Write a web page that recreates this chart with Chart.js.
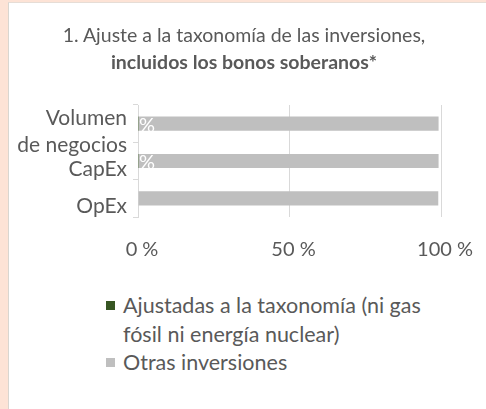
<!DOCTYPE html>
<html>
<head>
<meta charset="utf-8">
<script src="https://cdn.jsdelivr.net/npm/chart.js@4"></script>
<style>
  body { margin: 0; background: #fde3d6; font-family: Lato, sans-serif; overflow: hidden; }
  .panel { position: absolute; left: 8px; top: 2px; width: 477px; height: 406px; background: #fff; border-left: 1px solid #d9d6d0; border-top: 1px solid #e6ddd6; }
  #myChart { position: absolute; left: 1px; top: 0; }
  #title { position: absolute; left: 0; top: 21px; width: 488px; text-align: center; color: #595959; font-size: 19.5px; line-height: 27px; }
  #title b { font-weight: bold; }
  #legend { position: absolute; left: 97px; top: 288px; width: 340px; color: #595959; font-size: 21.5px; line-height: 28.5px; }
  .item { position: relative; padding-left: 17px; }
  .item span { position: absolute; left: 0; top: 10px; width: 9px; height: 9px; }
</style>
</head>
<body>
<div class="panel">
  <canvas id="myChart" width="476" height="272"></canvas>
  <div id="legend"></div>
</div>
<div id="title">1. Ajuste a la taxonomía de las inversiones,<br><b>incluidos los bonos soberanos*</b></div>
<script>
const categories = [['Volumen', 'de negocios'], 'CapEx', 'OpEx'];
const alignedValues = [0.3, 0.3, 0];
const otherValues = [98.9, 98.9, 99.1];
const xTicks = [0, 50, 100];

const textColor = '#595959';
const ctx = document.getElementById('myChart').getContext('2d');

// white "0 %" labels on the tiny green segments, clipped to the plot
const valueLabels = {
    id: 'valueLabels',
    afterDatasetsDraw(chart) {
        const meta = chart.getDatasetMeta(0);
        const a = chart.chartArea;
        const c = chart.ctx;
        c.save();
        c.beginPath();
        c.rect(a.left + 1, a.top, a.right - a.left, a.bottom - a.top);
        c.clip();
        c.fillStyle = '#ffffff';
        c.font = '20px Lato';
        c.textAlign = 'center';
        c.textBaseline = 'middle';
        meta.data.forEach((bar, i) => {
            const v = alignedValues[i];
            if (!v) return;
            const p = bar.getCenterPoint();
            c.fillText(Math.round(v) + ' %', p.x, p.y + 2);
        });
        c.restore();
    }
};

const myChart = new Chart(ctx, {
    type: 'bar',
    data: {
        labels: categories,
        datasets: [
            {
                label: 'Ajustadas a la taxonomía (ni gas fósil ni energía nuclear)',
                data: alignedValues,
                backgroundColor: '#375623',
                categoryPercentage: 1,
                barPercentage: 0.38
            },
            {
                label: 'Otras inversiones',
                data: otherValues,
                backgroundColor: '#bfbfbf',
                categoryPercentage: 1,
                barPercentage: 0.38
            }
        ]
    },
    options: {
        indexAxis: 'y',
        responsive: false,
        animation: false,
        layout: { padding: { left: 7, right: 45, top: 102, bottom: 13 } },
        scales: {
            x: {
                stacked: true,
                min: 0,
                max: 100,
                afterBuildTicks: (s) => { s.ticks = xTicks.map(v => ({ value: v })); },
                afterFit: (s) => { s.height = 45; s.paddingLeft = 0; s.paddingRight = 0; },
                ticks: {
                    color: textColor,
                    font: { family: 'Lato', size: 20 },
                    padding: 21,
                    labelOffset: 4,
                    maxRotation: 0,
                    callback: (v) => v + ' %'
                },
                grid: { color: '#d9d9d9', drawTicks: false, borderDash: [9, 27] },
                border: { display: false }
            },
            y: {
                stacked: true,
                afterFit: (s) => { s.width = 121; s.paddingTop = 0; s.paddingBottom = 0; },
                ticks: {
                    autoSkip: false,
                    color: textColor,
                    font: { family: 'Lato', size: 21, lineHeight: 1.3 },
                    padding: 6,
                    labelOffset: 8
                },
                grid: { color: '#d9d9d9', drawOnChartArea: false, offset: true, tickLength: 5 },
                border: { color: '#d9d9d9', width: 1 }
            }
        },
        plugins: {
            legend: { display: false },
            tooltip: { enabled: false }
        }
    },
    plugins: [valueLabels]
});

// html legend, the first label wraps over two lines
const legendEl = document.getElementById('legend');
myChart.data.datasets.forEach((ds) => {
    const item = document.createElement('div');
    item.className = 'item';
    const sw = document.createElement('span');
    sw.style.background = ds.backgroundColor;
    item.appendChild(sw);
    item.appendChild(document.createTextNode(ds.label));
    legendEl.appendChild(item);
});
</script>
</body>
</html>
